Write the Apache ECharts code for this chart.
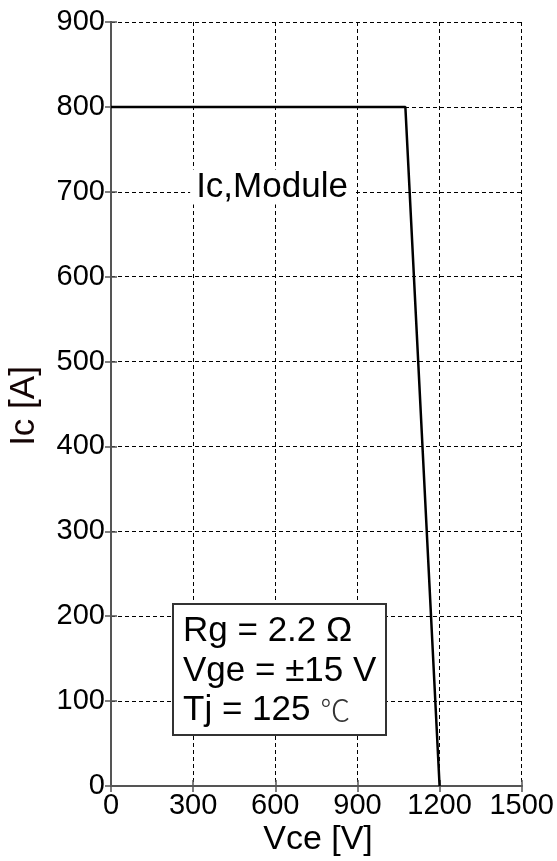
<!DOCTYPE html>
<html>
<head>
<meta charset="utf-8">
<script src="https://cdn.jsdelivr.net/npm/echarts@6/dist/echarts.min.js"></script>
<style>html,body{margin:0;padding:0;background:#fff;}#c{width:557px;height:861px;}</style>
</head>
<body>
<div id="c"></div>
<script>
// Data
const vce = [0, 1075, 1200];
const ic = [800, 800, 0];
const xTicks = [0, 300, 600, 900, 1200, 1500];
const yTicks = [0, 100, 200, 300, 400, 500, 600, 700, 800, 900];
const curveLabel = 'Ic,Module';
const condLines = ['Rg = 2.2 Ω', 'Vge = ±15 V', 'Tj = 125 '];
const tempUnit = '℃';

const FONT = '"Liberation Sans", Arial, sans-serif';
const chart = echarts.init(document.getElementById('c'), null, {renderer: 'canvas'});
const axisLineStyle = {color: '#555', width: 2};
const gridStyle = {show: true, lineStyle: {color: '#000', type: [4, 3], width: 1}};
const tickStyle = {show: true, inside: true, length: 6, lineStyle: {color: '#555', width: 1.5}};

chart.setOption({
  animation: false,
  backgroundColor: '#fff',
  grid: {left: 111, top: 22, right: 33, bottom: 75, containLabel: false},
  xAxis: [{
    type: 'value', min: xTicks[0], max: xTicks[xTicks.length - 1], interval: 300,
    axisLine: {show: true, onZero: false, lineStyle: axisLineStyle},
    axisTick: tickStyle,
    splitLine: gridStyle,
    axisLabel: {color: '#000', fontSize: 29, fontFamily: FONT, margin: 5, showMinLabel: true, showMaxLabel: true,
      formatter: v => String(v)}
  }, {
    type: 'value', position: 'top', min: 0, max: 1500, interval: 300,
    axisLine: {show: true, lineStyle: axisLineStyle},
    axisTick: tickStyle, splitLine: {show: false}, axisLabel: {show: false}
  }],
  yAxis: [{
    type: 'value', min: yTicks[0], max: yTicks[yTicks.length - 1], interval: 100,
    axisLine: {show: true, onZero: false, lineStyle: axisLineStyle},
    axisTick: tickStyle,
    splitLine: gridStyle,
    axisLabel: {color: '#000', fontSize: 29, fontFamily: FONT, margin: 6, formatter: v => String(v)}
  }, {
    type: 'value', position: 'right', min: 0, max: 900, interval: 100,
    axisLine: {show: true, lineStyle: axisLineStyle},
    axisTick: tickStyle, splitLine: {show: false}, axisLabel: {show: false}
  }],
  series: [{
    type: 'line',
    data: vce.map((v, i) => [v, ic[i]]),
    showSymbol: false,
    lineStyle: {color: '#000', width: 2.5},
    z: 5
  }],
  graphic: [
    {type: 'text', x: 24, y: 406, rotation: Math.PI / 2,
      style: {text: 'Ic [A]', font: '35px ' + FONT, fill: '#140404', textAlign: 'center', textVerticalAlign: 'middle'}},
    {type: 'text', x: 318, y: 840,
      style: {text: 'Vce [V]', font: '34px ' + FONT, fill: '#000', textAlign: 'center', textVerticalAlign: 'middle'}},
    {type: 'text', x: 272, y: 187, z: 10,
      style: {text: curveLabel, font: '35px ' + FONT, fill: '#000', textAlign: 'center', textVerticalAlign: 'middle',
        backgroundColor: '#fff', padding: [0, 6]}},
    {type: 'rect', z: 10, shape: {x: 173, y: 604, width: 213, height: 131},
      style: {fill: '#fff', stroke: '#333', lineWidth: 2}},
    {type: 'text', x: 183, y: 631, z: 11,
      style: {text: condLines[0], font: '35px ' + FONT, fill: '#000', textVerticalAlign: 'middle'}},
    {type: 'text', x: 183, y: 671, z: 11,
      style: {text: condLines[1], font: '35px ' + FONT, fill: '#000', textVerticalAlign: 'middle'}},
    {type: 'text', x: 183, y: 710, z: 11,
      style: {text: '{a|' + condLines[2] + '}{b|' + tempUnit + '}', textVerticalAlign: 'middle',
        rich: {
          a: {font: '35px ' + FONT, fill: '#000', color: '#000'},
          b: {fontSize: 30, fontFamily: '"Noto Sans CJK SC"', fontWeight: 300, color: '#333', fill: '#333'}
        }}}
  ]
});
</script>
</body>
</html>
